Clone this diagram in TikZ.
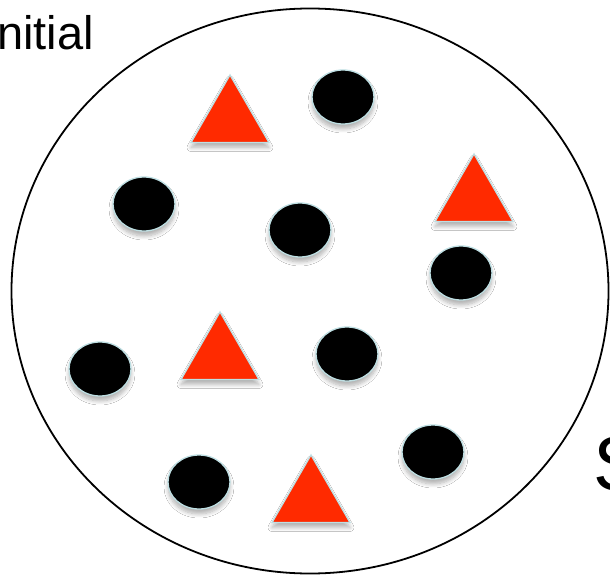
\documentclass[tikz,border=0pt]{standalone}
\usepackage{fontspec}
\setmainfont{Liberation Sans}
\usepackage{xcolor}
\definecolor{dotblack}{HTML}{000000}
\definecolor{trired}{HTML}{FF2A00}
\definecolor{rimblue}{HTML}{BEDFE3}
\usepackage{tikz}
\usetikzlibrary{shapes.geometric, shadows.blur}
\tikzset{
  setring/.style={ellipse, draw=black, line width=1.8pt, fill=white,
                  minimum width=597bp, minimum height=565bp, inner sep=0pt},
  dot/.style    ={ellipse, draw=rimblue, line width=1.3pt, fill=dotblack,
                  minimum width=62bp, minimum height=54bp, inner sep=0pt,
                  blur shadow={shadow xshift=0pt, shadow yshift=-5pt, shadow blur radius=4pt,
                               shadow blur steps=8, shadow opacity=30}},
  tri/.style    ={regular polygon, regular polygon sides=3, draw=rimblue, line width=1.3pt, fill=trired,
                  minimum size=90bp, inner sep=0pt,
                  blur shadow={shadow xshift=0pt, shadow yshift=-5pt, shadow blur radius=4pt,
                               shadow blur steps=8, shadow opacity=30}},
  lbl/.style    ={inner sep=0pt, anchor=base west, text=black},
}

\begin{document}
\begin{tikzpicture}[x=1bp, y=-1bp]
  \useasboundingbox (0,0) rectangle (610,575);
  \node[setring] (set) at (310,291) {};
  % labels
  \node[lbl, font=\fontsize{47bp}{56bp}\selectfont] (init) at (-3,50) {nitial};
  \node[lbl, font=\fontsize{77bp}{90bp}\selectfont] (s) at (593,490) {S};
  % triangles
  \node[tri] (t1) at (230,120) {};
  \node[tri] (t2) at (474,199) {};
  \node[tri] (t3) at (220,357) {};
  \node[tri] (t4) at (311,500) {};
  % dots
  \node[dot] (d1) at (343,97) {};
  \node[dot] (d2) at (144,204) {};
  \node[dot] (d3) at (300,230) {};
  \node[dot] (d4) at (461,273) {};
  \node[dot] (d5) at (100,369) {};
  \node[dot] (d6) at (347,354) {};
  \node[dot] (d7) at (199,482) {};
  \node[dot] (d8) at (433,452) {};
\end{tikzpicture}
\end{document}
